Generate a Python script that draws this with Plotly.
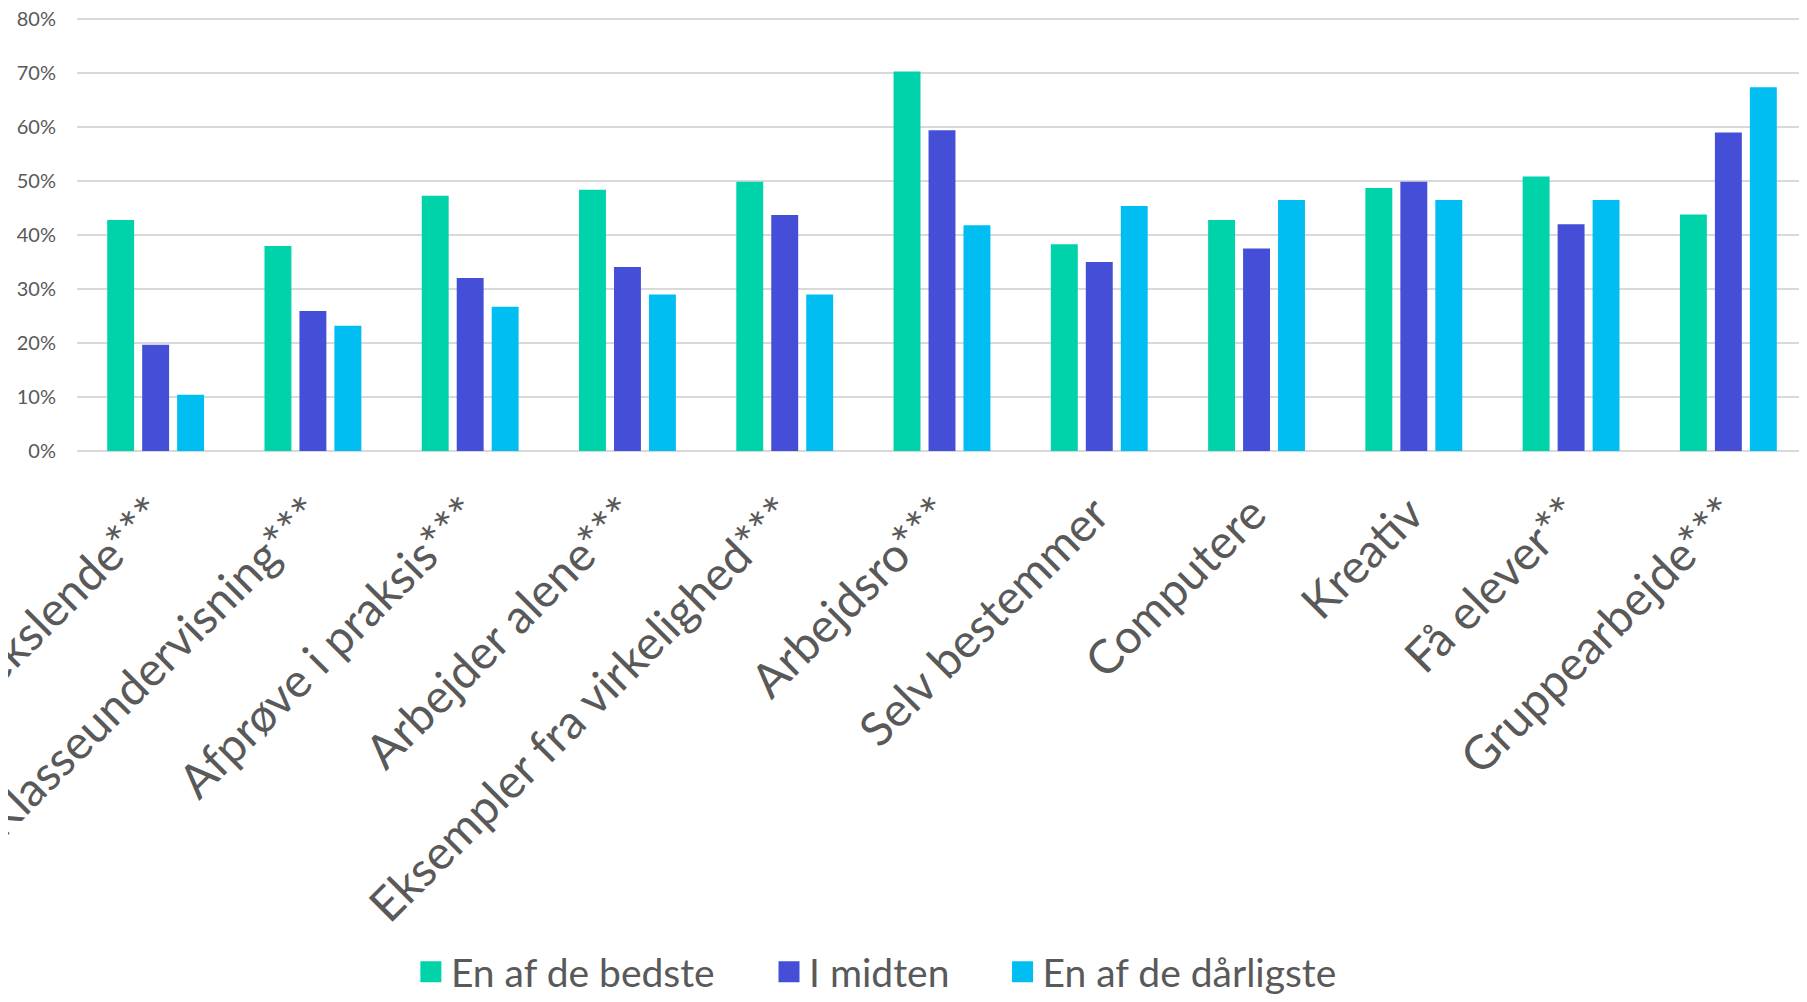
import plotly.graph_objects as go

categories = ["Vekslende***", "Klasseundervisning***", "Afprøve i praksis***",
              "Arbejder alene***", "Eksempler fra virkelighed***", "Arbejdsro***",
              "Selv bestemmer", "Computere", "Kreativ", "Få elever**", "Gruppearbejde***"]
series_names = ["En af de bedste", "I midten", "En af de dårligste"]
best = [42.8, 38.0, 47.3, 48.4, 49.9, 70.3, 38.3, 42.8, 48.7, 50.85, 43.8]
middle = [19.7, 25.95, 32.05, 34.1, 43.7, 59.4, 35.0, 37.5, 49.9, 42.0, 59.0]
worst = [10.4, 23.2, 26.7, 29.0, 29.0, 41.8, 45.4, 46.5, 46.5, 46.5, 67.4]
colors = ["#00D2AA", "#444ED6", "#00BEF2"]
y_ticks = [0, 10, 20, 30, 40, 50, 60, 70, 80]
y_tick_labels = ["0%", "10%", "20%", "30%", "40%", "50%", "60%", "70%", "80%"]

FONT = "Lato"
TXT = "#595959"

fig = go.Figure()
for name, vals, col in zip(series_names, [best, middle, worst], colors):
    fig.add_trace(go.Bar(x=categories, y=vals, name=name, marker_color=col,
                         marker_line_width=0, showlegend=False))

legend_ids = ["legend", "legend2", "legend3"]
legend_x = [0.193, 0.400, 0.535]
for name, col, lid in zip(series_names, colors, legend_ids):
    fig.add_trace(go.Scatter(x=[None], y=[None], mode="markers", name=name,
                             marker=dict(symbol="square", size=16, color=col,
                                         line=dict(color=col, width=5)),
                             legend=lid, showlegend=True))

leg_common = dict(orientation="h", yanchor="middle", y=-1.2, xanchor="left",
                  font=dict(family=FONT, size=39, color=TXT), bgcolor="rgba(0,0,0,0)",
                  itemclick=False)
layout_legends = {}
for lid, lx in zip(legend_ids, legend_x):
    d = dict(leg_common)
    d["x"] = lx
    layout_legends[lid] = d

# page body has an 8px default margin, so the figure is sized/offset to compensate
fig.update_layout(
    width=1799, height=994,
    margin=dict(l=69, r=0, t=9, b=551, autoexpand=False),
    paper_bgcolor="white", plot_bgcolor="white",
    barmode="group", bargap=0.333, bargroupgap=0.23,
    font=dict(family=FONT, color=TXT),
    xaxis=dict(type="category", tickangle=-45, showgrid=False, showline=False,
               tickfont=dict(family=FONT, size=47, color=TXT), ticks="",
               ticklabelstandoff=25, ticklabelshift=-4,
               automargin=False, fixedrange=True),
    yaxis=dict(range=[0, 80.4], tickmode="array", tickvals=y_ticks, ticktext=y_tick_labels,
               showgrid=True, gridcolor="#D9D9D9", gridwidth=1.5,
               zeroline=True, zerolinecolor="#D9D9D9", zerolinewidth=1.5,
               showline=False, ticks="", ticklabelstandoff=20,
               ticklabeloverflow="allow",
               tickfont=dict(family=FONT, size=20, color=TXT),
               automargin=False, fixedrange=True),
    **layout_legends,
)

fig.write_html("out.html")
